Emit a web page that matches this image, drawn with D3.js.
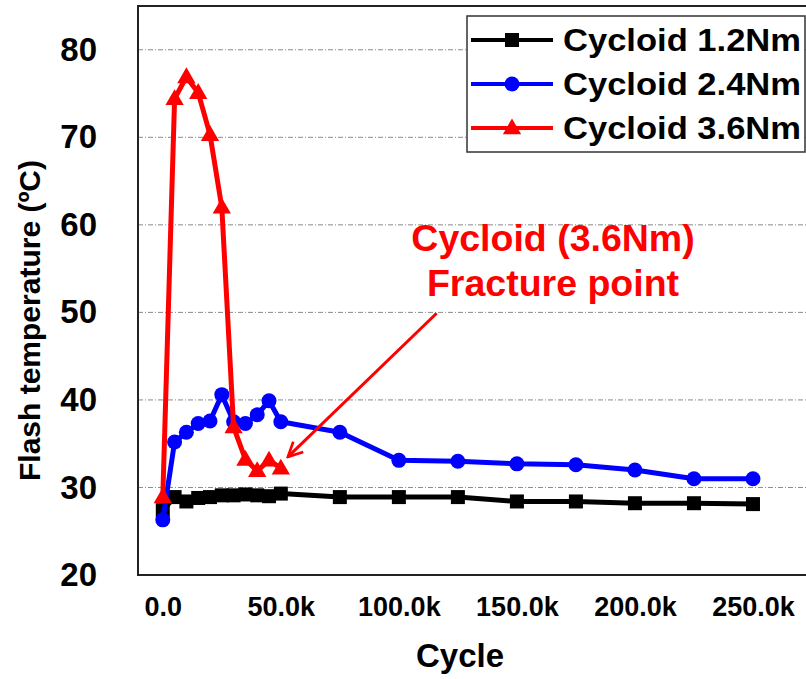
<!DOCTYPE html>
<html>
<head>
<meta charset="utf-8">
<script src="https://cdn.jsdelivr.net/npm/d3@7"></script>
<style>
  html, body { margin: 0; padding: 0; background: #fff; }
  svg { display: block; font-family: "Liberation Sans", Arial, sans-serif; font-weight: bold; }
</style>
</head>
<body>
<svg id="chart" width="806" height="679"></svg>
<script>
// Cycle counts (x) for the early dense sampling and the long-run sampling
const cyclesEarly = [0, 5000, 10000, 15000, 20000, 25000, 30000, 35000, 40000, 45000, 50000];
const cyclesLate = [75000, 100000, 125000, 150000, 175000, 200000, 225000, 250000];

// Flash temperature (°C) per load
const temp12 = [27.4, 28.9, 28.4, 28.8, 28.9, 29.1, 29.1, 29.2, 29.1, 29.0, 29.3,
                28.9, 28.9, 28.9, 28.4, 28.4, 28.2, 28.2, 28.1];
const temp24 = [26.3, 35.2, 36.3, 37.3, 37.6, 40.6, 37.5, 37.3, 38.3, 39.9, 37.5,
                36.3, 33.1, 33.0, 32.7, 32.6, 32.0, 31.0, 31.0];
const temp36 = [28.9, 74.4, 76.9, 75.1, 70.3, 62.0, 36.9, 33.2, 31.9, 33.1, 32.2];

const seriesNames = ["Cycloid 1.2Nm", "Cycloid 2.4Nm", "Cycloid 3.6Nm"];
const seriesColors = ["#000000", "#0000ff", "#ff0000"];
const seriesShapes = ["square", "circle", "triangle"];

const xTicks = [0, 50000, 100000, 150000, 200000, 250000];
const xTickLabels = ["0.0", "50.0k", "100.0k", "150.0k", "200.0k", "250.0k"];
const yTicks = [20, 30, 40, 50, 60, 70, 80];

// Annotation: arrow from the label down to the fracture point of the 3.6Nm gear
const noteLines = ["Cycloid (3.6Nm)", "Fracture point"];
const arrowFrom = [116000, 49.9];
const arrowTo = [53000, 33.5];

const allCycles = cyclesEarly.concat(cyclesLate);
const series = [
  { name: seriesNames[0], color: seriesColors[0], shape: seriesShapes[0],
    pts: allCycles.map((c, i) => [c, temp12[i]]) },
  { name: seriesNames[1], color: seriesColors[1], shape: seriesShapes[1],
    pts: allCycles.map((c, i) => [c, temp24[i]]) },
  { name: seriesNames[2], color: seriesColors[2], shape: seriesShapes[2],
    pts: cyclesEarly.map((c, i) => [c, temp36[i]]) }
];

const svg = d3.select("#chart");
const plot = { left: 138, right: 812, top: 6, bottom: 575 };

const x = d3.scaleLinear().domain([-10500, 275000]).range([plot.left, plot.right]);
const y = d3.scaleLinear().domain([20, 85]).range([plot.bottom, plot.top]);

// dash-dot horizontal gridlines
svg.append("g")
  .selectAll("line")
  .data(yTicks.filter(t => t > 20))
  .join("line")
  .attr("x1", plot.left).attr("x2", plot.right)
  .attr("y1", d => y(d)).attr("y2", d => y(d))
  .attr("stroke", "#8a8a8a").attr("stroke-width", 1)
  .attr("stroke-dasharray", "5,2,1,2");

// y axis labels
const yAxis = d3.axisLeft(y).tickValues(yTicks).tickSize(0).tickPadding(41).tickFormat(d3.format("d"));
const gy = svg.append("g").attr("transform", `translate(${plot.left},0)`).call(yAxis);
gy.select(".domain").remove();
gy.selectAll("text").attr("font-size", 33).attr("font-weight", "bold")
  .attr("font-family", "'Liberation Sans', Arial, sans-serif").attr("fill", "#000");

// x axis labels
const xAxis = d3.axisBottom(x).tickValues(xTicks).tickSize(0).tickPadding(22)
  .tickFormat((d, i) => xTickLabels[i]);
const gx = svg.append("g").attr("transform", `translate(0,${plot.bottom})`).call(xAxis);
gx.select(".domain").remove();
gx.selectAll("text").attr("font-size", 27).attr("font-weight", "bold")
  .attr("font-family", "'Liberation Sans', Arial, sans-serif").attr("fill", "#000");

// frame
svg.append("path")
  .attr("d", `M${plot.right},${plot.top}H${plot.left}V${plot.bottom}H${plot.right}`)
  .attr("fill", "none").attr("stroke", "#222").attr("stroke-width", 2);

// axis titles
svg.append("text")
  .attr("x", 460).attr("y", 667)
  .attr("text-anchor", "middle").attr("font-size", 33)
  .text("Cycle");
svg.append("text")
  .attr("transform", `translate(40,${y(52.5) + 30}) rotate(-90)`)
  .attr("text-anchor", "middle").attr("font-size", 30)
  .text("Flash temperature (ºC)");

// marker painter
function drawMarker(g, shape, color, cx, cy) {
  if (shape === "square") {
    g.append("rect").attr("x", cx - 7).attr("y", cy - 7)
      .attr("width", 14).attr("height", 14).attr("fill", color);
  } else if (shape === "circle") {
    g.append("circle").attr("cx", cx).attr("cy", cy).attr("r", 7.5).attr("fill", color);
  } else {
    g.append("path").attr("d", d3.symbol(d3.symbolTriangle, 145)())
      .attr("transform", `translate(${cx},${cy + 1})`).attr("fill", color);
  }
}

const line = d3.line().x(d => x(d[0])).y(d => y(d[1]));

// series: black first, then blue, red on top
series.forEach(s => {
  const g = svg.append("g");
  g.append("path").datum(s.pts).attr("d", line)
    .attr("fill", "none").attr("stroke", s.color).attr("stroke-width", 5)
    .attr("stroke-linejoin", "round");
  s.pts.forEach(p => drawMarker(g, s.shape, s.color, x(p[0]), y(p[1])));
});

// annotation
svg.append("defs").append("marker")
  .attr("id", "arrowhead").attr("viewBox", "0 0 10 10")
  .attr("refX", 9).attr("refY", 5)
  .attr("markerWidth", 6).attr("markerHeight", 6)
  .attr("markerUnits", "strokeWidth")
  .attr("orient", "auto")
  .append("path").attr("d", "M1,1L9,5L1,9").attr("fill", "none")
  .attr("stroke", "#ff0000").attr("stroke-width", 1.5);

svg.append("line")
  .attr("x1", x(arrowFrom[0])).attr("y1", y(arrowFrom[1]))
  .attr("x2", x(arrowTo[0])).attr("y2", y(arrowTo[1]))
  .attr("stroke", "#ff0000").attr("stroke-width", 3)
  .attr("marker-end", "url(#arrowhead)");

svg.append("g").selectAll("text").data(noteLines).join("text")
  .attr("x", 553).attr("y", (d, i) => 251 + i * 45)
  .attr("text-anchor", "middle").attr("font-size", 37.5).attr("fill", "#ff0000")
  .text(d => d);

// legend
const lg = svg.append("g");
lg.append("rect").attr("x", 467).attr("y", 16).attr("width", 338).attr("height", 136)
  .attr("fill", "#fff").attr("stroke", "#333").attr("stroke-width", 1.5);
series.forEach((s, i) => {
  const cy = 40 + i * 44;
  lg.append("line").attr("x1", 471).attr("x2", 553).attr("y1", cy).attr("y2", cy)
    .attr("stroke", s.color).attr("stroke-width", 4);
  drawMarker(lg, s.shape, s.color, 512, cy);
  lg.append("text").attr("x", 563).attr("y", cy + 11)
    .attr("font-size", 31).attr("textLength", 238).attr("lengthAdjust", "spacingAndGlyphs")
    .text(s.name);
});
</script>
</body>
</html>
